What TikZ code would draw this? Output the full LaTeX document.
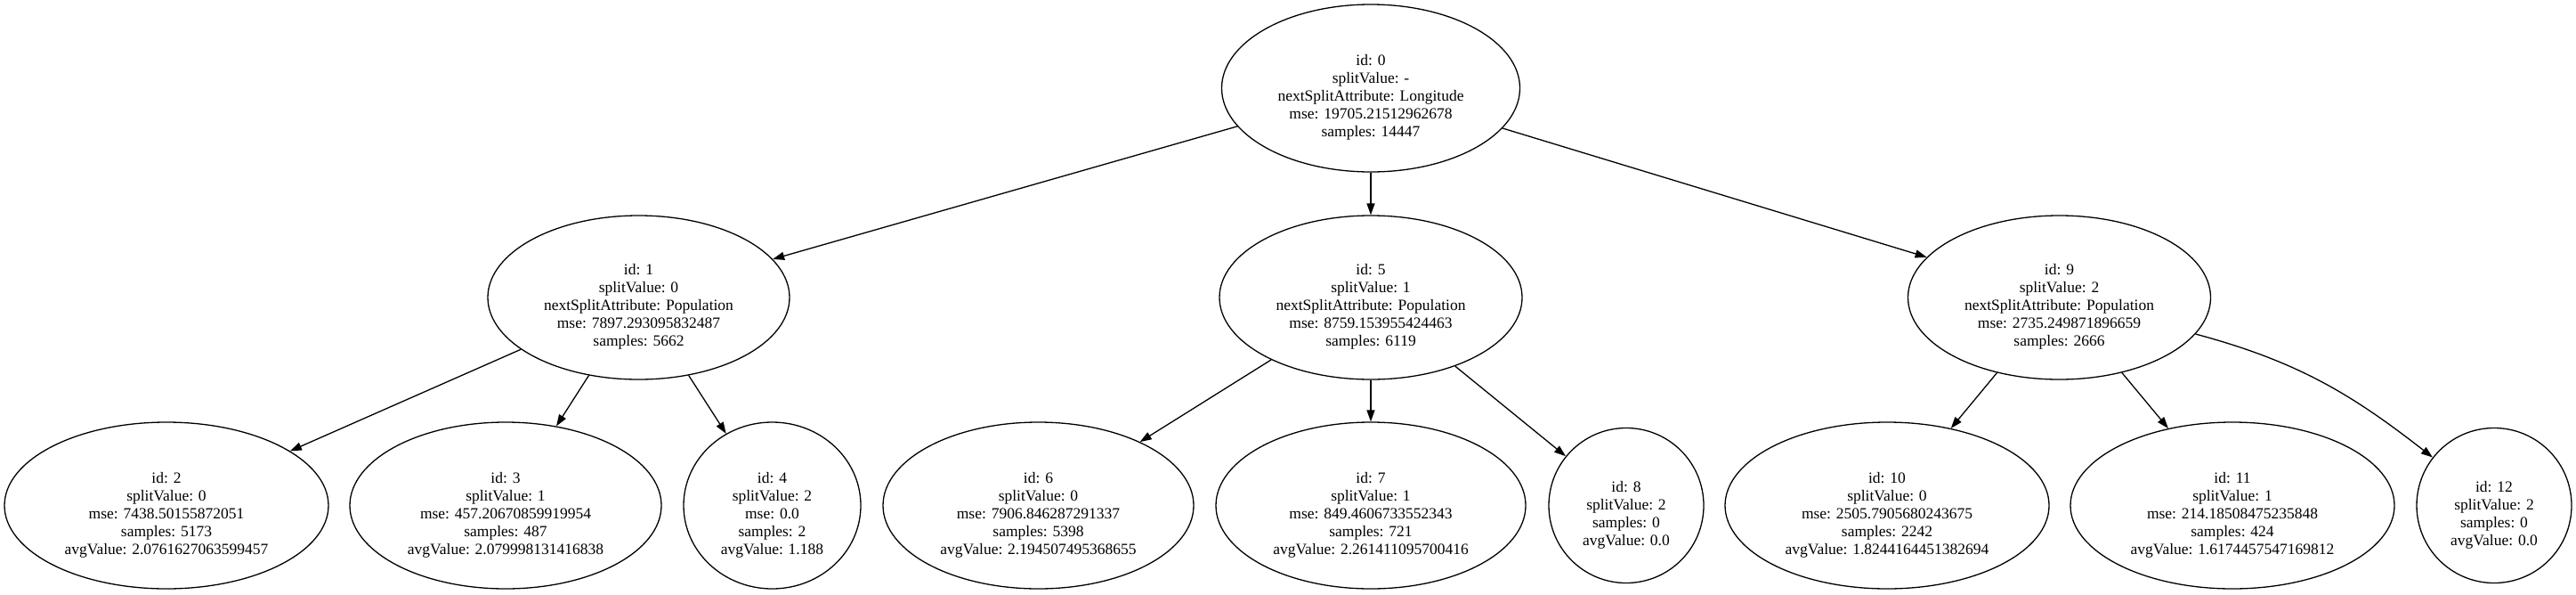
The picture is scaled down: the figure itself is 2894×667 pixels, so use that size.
\documentclass[tikz,border=0pt]{standalone}
\usepackage{fontspec}
\setmainfont{Liberation Serif}
\usetikzlibrary{shapes.geometric,arrows.meta}
\newcommand\topgap{\rule{0pt}{33pt}}
\begin{document}
\begin{tikzpicture}[x=1pt,y=-1pt,
  treenode/.style={draw=black, line width=1.3pt, shape=ellipse, inner sep=0pt,
    align=center, font=\fontsize{17.5pt}{20pt}\selectfont},
  wide/.style={treenode, minimum width=#1},
  edge/.style={draw=black, line width=1.3pt, -{Triangle[length=13pt,width=9pt]}}
]
\path[use as bounding box] (0,0) rectangle (2894,667);
% top rows
\node[treenode, minimum width=335pt, minimum height=188pt] (n0) at (1540,99)
  {\topgap id: 0\\splitValue: -\\nextSplitAttribute: Longitude\\mse: 19705.21512962678\\samples: 14447};
\node[treenode, minimum width=339pt, minimum height=184pt] (n1) at (717.5,334)
  {\topgap id: 1\\splitValue: 0\\nextSplitAttribute: Population\\mse: 7897.293095832487\\samples: 5662};
\node[treenode, minimum width=340pt, minimum height=184pt] (n5) at (1540,334)
  {\topgap id: 5\\splitValue: 1\\nextSplitAttribute: Population\\mse: 8759.153955424463\\samples: 6119};
\node[treenode, minimum width=340pt, minimum height=184pt] (n9) at (2313.5,334)
  {\topgap id: 9\\splitValue: 2\\nextSplitAttribute: Population\\mse: 2735.249871896659\\samples: 2666};
% leaves
\node[treenode, minimum width=364pt, minimum height=187pt] (n2) at (187,567.5)
  {\topgap id: 2\\splitValue: 0\\mse: 7438.50155872051\\samples: 5173\\avgValue: 2.0761627063599457};
\node[treenode, minimum width=350pt, minimum height=187pt] (n3) at (568,567.5)
  {\topgap id: 3\\splitValue: 1\\mse: 457.20670859919954\\samples: 487\\avgValue: 2.079998131416838};
\node[treenode, minimum width=199pt, minimum height=187pt] (n4) at (867.5,567.5)
  {\topgap id: 4\\splitValue: 2\\mse: 0.0\\samples: 2\\avgValue: 1.188};
\node[treenode, minimum width=349pt, minimum height=187pt] (n6) at (1166.5,567.5)
  {\topgap id: 6\\splitValue: 0\\mse: 7906.846287291337\\samples: 5398\\avgValue: 2.194507495368655};
\node[treenode, minimum width=348pt, minimum height=187pt] (n7) at (1540,567.5)
  {\topgap id: 7\\splitValue: 1\\mse: 849.4606733552343\\samples: 721\\avgValue: 2.261411095700416};
\node[treenode, minimum width=174pt, minimum height=174pt] (n8) at (1827,567.5)
  {\topgap id: 8\\splitValue: 2\\samples: 0\\avgValue: 0.0};
\node[treenode, minimum width=364pt, minimum height=187pt] (n10) at (2120,567.5)
  {\topgap id: 10\\splitValue: 0\\mse: 2505.7905680243675\\samples: 2242\\avgValue: 1.8244164451382694};
\node[treenode, minimum width=364pt, minimum height=187pt] (n11) at (2508,567.5)
  {\topgap id: 11\\splitValue: 1\\mse: 214.18508475235848\\samples: 424\\avgValue: 1.6174457547169812};
\node[treenode, minimum width=174pt, minimum height=174pt] (n12) at (2802,567.5)
  {\topgap id: 12\\splitValue: 2\\samples: 0\\avgValue: 0.0};
% edges
\draw[edge] (n0) -- (n1);
\draw[edge] (n0) -- (n5);
\draw[edge] (n0) -- (n9);
\draw[edge] (n1) -- (n2);
\draw[edge] (n1) -- (n3);
\draw[edge] (n1) -- (n4);
\draw[edge] (n5) -- (n6);
\draw[edge] (n5) -- (n7);
\draw[edge] (n5) -- (n8);
\draw[edge] (n9) -- (n10);
\draw[edge] (n9) -- (n11);
\draw[edge] (n9) to[out=-15,in=142] (n12);
\end{tikzpicture}
\end{document}
